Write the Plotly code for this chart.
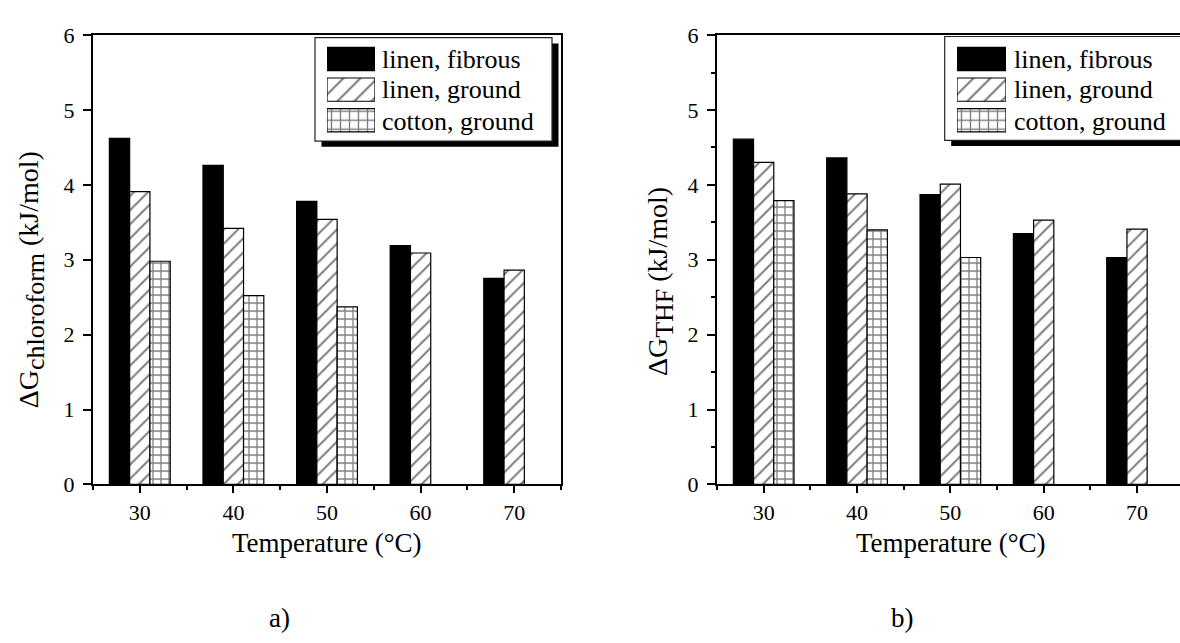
import plotly.graph_objects as go

W, H = 1180, 643
FONT = "Liberation Serif, Times New Roman, serif"

temps = [30, 40, 50, 60, 70]
temps_cotton = [30, 40, 50]
series_names = ["linen, fibrous", "linen, ground", "cotton, ground"]

chl_fibrous = [4.62, 4.26, 3.78, 3.19, 2.75]
chl_ground = [3.91, 3.42, 3.54, 3.09, 2.86]
chl_cotton = [2.98, 2.52, 2.37]

thf_fibrous = [4.61, 4.36, 3.87, 3.35, 3.03]
thf_ground = [4.30, 3.88, 4.01, 3.53, 3.41]
thf_cotton = [3.79, 3.40, 3.03]

y_tick_vals = [0, 1, 2, 3, 4, 5, 6]
x_tick_vals = [30, 40, 50, 60, 70]


def px(x):
    return x / W


def py(y):
    return 1 - y / H


fig = go.Figure()

HATCH = dict(shape="/", fgcolor="black", bgcolor="white", size=10, solidity=0.21)
GRID = dict(shape="+", fgcolor="black", bgcolor="white", size=8, solidity=0.3)
STYLES = [
    dict(color="black", pattern=None),
    dict(color="white", pattern=HATCH),
    dict(color="white", pattern=GRID),
]


def bar(x, y, k, xa, ya):
    st = STYLES[k]
    marker = dict(color=st["color"], line=dict(color="black", width=1.2))
    if st["pattern"]:
        marker["pattern"] = st["pattern"]
    return go.Bar(x=x, y=y, name=series_names[k], marker=marker, xaxis=xa, yaxis=ya,
                  showlegend=False, hoverinfo="skip")


fig.add_trace(bar(temps, chl_fibrous, 0, "x", "y"))
fig.add_trace(bar(temps, chl_ground, 1, "x", "y"))
fig.add_trace(bar(temps_cotton, chl_cotton, 2, "x", "y"))

fig.add_trace(bar(temps, thf_fibrous, 0, "x2", "y2"))
fig.add_trace(bar(temps, thf_ground, 1, "x2", "y2"))
fig.add_trace(bar(temps_cotton, thf_cotton, 2, "x2", "y2"))

# legend swatches (horizontal bars on small helper axes)
for xa, ya in (("x3", "y3"), ("x4", "y4")):
    for k, yy in zip(range(3), [2, 1, 0]):
        st = STYLES[k]
        marker = dict(color=st["color"], line=dict(color="black", width=1.2))
        if st["pattern"]:
            p = dict(st["pattern"])
            if k == 1:
                p["size"] = 12
                p["solidity"] = 0.18
            else:
                p["size"] = 9
                p["solidity"] = 0.28
            marker["pattern"] = p
        fig.add_trace(go.Bar(
            x=[1], y=[yy], orientation="h", xaxis=xa, yaxis=ya, width=0.76,
            showlegend=False, hoverinfo="skip", offsetgroup="lg", marker=marker,
        ))

ydom = [py(491.5), py(24)]
axis_common = dict(showline=True, linewidth=2, linecolor="black", ticks="outside",
                   tickcolor="black", tickwidth=1.5, showgrid=False, zeroline=False,
                   tickfont=dict(family=FONT, size=22, color="black"))
inner = dict(ticks="inside", ticklen=4, tickcolor="black", tickwidth=1,
             showticklabels=False, showgrid=False, zeroline=False, showline=False)

fig.update_layout(
    width=W, height=H, margin=dict(l=0, r=0, t=0, b=0),
    paper_bgcolor="white", plot_bgcolor="rgba(0,0,0,0)",
    barmode="group", bargap=0.35, bargroupgap=0,
    showlegend=False,
    font=dict(family=FONT, color="black"),
    xaxis=dict(domain=[px(93), px(561)], range=[25, 75], tickvals=x_tick_vals, ticklen=7,
               minor=dict(tickvals=[25, 35, 45, 55, 65, 75], ticklen=4, ticks="outside",
                          tickcolor="black", tickwidth=1.5),
               mirror=True, anchor="y", **axis_common),
    yaxis=dict(domain=ydom, range=[0, 6], tickvals=y_tick_vals, ticklen=8,
               mirror=True, anchor="x", ticklabelstandoff=4, **axis_common),
    xaxis2=dict(domain=[px(717), 1.0], range=[25, 74.6], tickvals=x_tick_vals, ticklen=7,
                minor=dict(tickvals=[25, 35, 45, 55, 65], ticklen=4, ticks="outside",
                           tickcolor="black", tickwidth=1.5),
                mirror=True, anchor="y2", **axis_common),
    yaxis2=dict(domain=ydom, range=[0, 6], tickvals=y_tick_vals, ticklen=8,
                minor=dict(tickvals=[0.5, 1.5, 2.5, 3.5, 4.5, 5.5], ticklen=4, ticks="outside",
                           tickcolor="black", tickwidth=1.5),
                anchor="x2", ticklabelstandoff=4, **axis_common),
    # mirrored inner ticks on top/right frames
    xaxis5=dict(overlaying="x", side="top", anchor="y", range=[25, 75],
                tickvals=[30, 35, 40, 45, 50, 55, 60, 65, 70], **inner),
    yaxis5=dict(overlaying="y", side="right", anchor="x", range=[0, 6],
                tickvals=y_tick_vals, **inner),
    xaxis6=dict(overlaying="x2", side="top", anchor="y2", range=[25, 74.6],
                tickvals=[30, 35, 40, 45, 50, 55, 60, 65, 70], **inner),
    # legend swatch axes
    xaxis3=dict(domain=[px(327), px(375)], range=[0, 1], visible=False, anchor="y3"),
    yaxis3=dict(domain=[py(128.5), py(33)], range=[-0.5, 2.5], visible=False, anchor="x3"),
    xaxis4=dict(domain=[px(957), px(1006)], range=[0, 1], visible=False, anchor="y4"),
    yaxis4=dict(domain=[py(128.5), py(33)], range=[-0.5, 2.5], visible=False, anchor="x4"),
)

shapes = []
for (x0, x1, y0, y1) in ((315, 552, 26.7, 134.3), (944.7, 1182, 25.5, 133.5)):
    shapes.append(dict(type="rect", xref="paper", yref="paper", layer="below",
                       x0=px(x0 + 6.5), x1=px(x1 + 6.5), y0=py(y1 + 6), y1=py(y0 + 6),
                       fillcolor="black", line=dict(width=0)))
    shapes.append(dict(type="rect", xref="paper", yref="paper", layer="below",
                       x0=px(x0), x1=px(x1), y0=py(y1), y1=py(y0),
                       fillcolor="white", line=dict(color="#222", width=1.2)))
fig.update_layout(shapes=shapes)

ann = []
rows_y = [49, 81, 114]
for x0 in (380, 1012):
    for name, yy in zip(series_names, rows_y):
        ann.append(dict(text=name, x=px(x0), y=py(yy), xref="paper", yref="paper",
                        xanchor="left", yanchor="middle", showarrow=False,
                        font=dict(family=FONT, size=26, color="black")))

title_font = dict(family=FONT, size=27, color="black")
ytitle_font = dict(family=FONT, size=28, color="black")
ann.append(dict(text="Temperature (°C)", x=px(327), y=py(553), xref="paper", yref="paper",
                xanchor="center", yanchor="middle", showarrow=False, font=title_font))
ann.append(dict(text="Temperature (°C)", x=px(951), y=py(553), xref="paper", yref="paper",
                xanchor="center", yanchor="middle", showarrow=False, font=title_font))
ann.append(dict(text="ΔG<sub><span style='font-size:26px'>chloroform</span></sub> (kJ/mol)",
                x=px(31), y=py(279), xref="paper", yref="paper", textangle=-90,
                xanchor="center", yanchor="middle", showarrow=False, font=ytitle_font))
ann.append(dict(text="ΔG<sub><span style='font-size:26px'>THF</span></sub> (kJ/mol)",
                x=px(660), y=py(281), xref="paper", yref="paper", textangle=-90,
                xanchor="center", yanchor="middle", showarrow=False, font=ytitle_font))
ann.append(dict(text="a)", x=px(279), y=py(630), xref="paper", yref="paper",
                xanchor="center", yanchor="middle", showarrow=False, font=title_font))
ann.append(dict(text="b)", x=px(902), y=py(630), xref="paper", yref="paper",
                xanchor="center", yanchor="middle", showarrow=False, font=title_font))
fig.update_layout(annotations=ann)

fig.write_html("out.html")
